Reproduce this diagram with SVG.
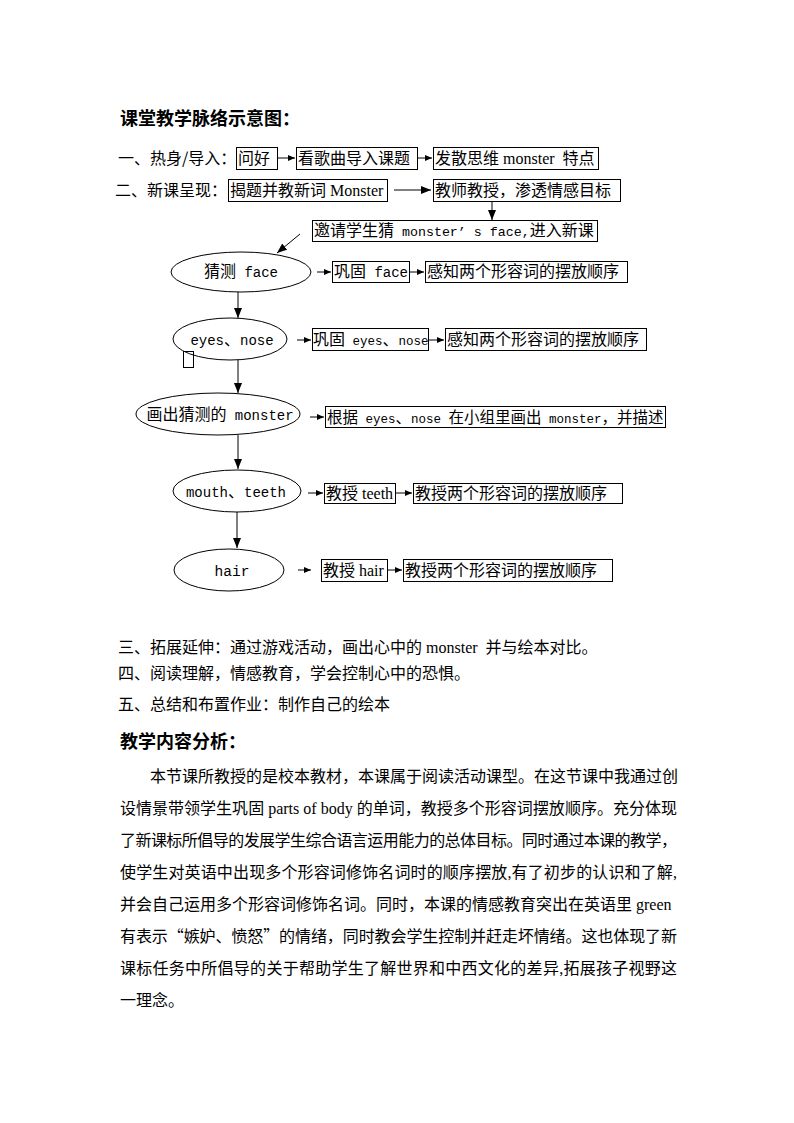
<svg xmlns="http://www.w3.org/2000/svg" width="794" height="1123" viewBox="0 0 794 1123">
<style>
text { font-family: "Noto Sans CJK SC", "Liberation Sans", sans-serif; font-size: 16px; fill: #000; }
.b { font-weight: bold; font-size: 18px; }
.se { font-family: "Liberation Serif", "Noto Sans CJK SC", serif; }
.mo { font-family: "Liberation Mono", "Noto Sans CJK SC", monospace; font-size: 14px; }
.box { fill: none; stroke: #000; stroke-width: 1; }
.ell { fill: #fff; stroke: #000; stroke-width: 1; }
.ln { stroke: #000; stroke-width: 1; fill: none; }
.sm { marker-end: url(#ahs); }
.lg { marker-end: url(#ahl); }
</style>
<defs>
<marker id="ahs" markerUnits="userSpaceOnUse" markerWidth="7" markerHeight="6" refX="7" refY="3" orient="auto">
<path d="M0,0 L7,3 L0,6 z" fill="#000"/>
</marker>
<marker id="ahl" markerUnits="userSpaceOnUse" markerWidth="10" markerHeight="8" refX="10" refY="4" orient="auto">
<path d="M0,0 L10,4 L0,8 z" fill="#000"/>
</marker>
</defs>
<rect width="794" height="1123" fill="#fff"/>

<text class="b" x="120" y="125">课堂教学脉络示意图：</text>
<text x="118" y="164">一、热身/导入：</text>
<text x="115" y="196">二、新课呈现：</text>

<g id="connectors">
<line class="ln sm" x1="278" y1="158" x2="295" y2="158"/>
<line class="ln sm" x1="418" y1="158" x2="432" y2="158"/>
<line class="ln lg" x1="394" y1="190" x2="431" y2="190"/>
<line class="ln lg" x1="492" y1="201" x2="492" y2="220"/>
<line class="ln lg" x1="300" y1="234" x2="277" y2="253"/>
<line class="ln lg" x1="238" y1="292" x2="238" y2="318"/>
<line class="ln lg" x1="238" y1="360" x2="238" y2="393"/>
<line class="ln lg" x1="238" y1="435" x2="238" y2="469"/>
<line class="ln lg" x1="237" y1="512" x2="237" y2="548"/>
<line class="ln sm" x1="317" y1="272" x2="331" y2="272"/>
<line class="ln sm" x1="410" y1="272" x2="424" y2="272"/>
<line class="ln sm" x1="297" y1="340" x2="311" y2="340"/>
<line class="ln sm" x1="429" y1="340" x2="444" y2="340"/>
<line class="ln sm" x1="310" y1="417" x2="324" y2="417"/>
<line class="ln sm" x1="308" y1="493" x2="323" y2="493"/>
<line class="ln sm" x1="396" y1="493" x2="412" y2="493"/>
<line class="ln sm" x1="298" y1="570" x2="311" y2="570"/>
<line class="ln sm" x1="388" y1="570" x2="402" y2="570"/>
</g>

<g id="n-wenhao"><rect class="box" x="236.5" y="147.5" width="41" height="22"/><text x="238" y="164">问好</text></g>
<g id="n-song"><rect class="box" x="296.5" y="147.5" width="121" height="22"/><text x="298" y="164">看歌曲导入课题</text></g>
<g id="n-think"><rect class="box" x="433.5" y="147.5" width="165" height="22"/><text x="435" y="164">发散思维<tspan class="se"> monster </tspan><tspan dx="4">特点</tspan></text></g>
<g id="n-reveal"><rect class="box" x="228.5" y="179.5" width="159" height="22"/><text x="230" y="196">揭题并教新词<tspan class="se"> Monster</tspan></text></g>
<g id="n-teach"><rect class="box" x="433.5" y="179.5" width="187" height="22"/><text x="435" y="196">教师教授，渗透情感目标</text></g>
<g id="n-invite"><rect class="box" x="312.5" y="220.5" width="285" height="21"/><text x="314" y="236">邀请学生猜<tspan class="mo" style="font-size:13.3px"> monster’ s face,</tspan>进入新课</text></g>

<g id="e-face"><ellipse class="ell" cx="241" cy="272" rx="70" ry="20"/><text x="241" y="277" text-anchor="middle">猜测<tspan class="mo"> face</tspan></text></g>
<g id="e-eyes"><ellipse class="ell" cx="230" cy="339" rx="57" ry="21"/><text x="232" y="345" text-anchor="middle"><tspan class="mo">eyes</tspan>、<tspan class="mo">nose</tspan></text><rect class="box" x="183.5" y="351.5" width="10" height="16"/></g>
<g id="e-draw"><ellipse class="ell" cx="218" cy="414" rx="82" ry="21"/><text x="220" y="420" text-anchor="middle">画出猜测的<tspan class="mo"> monster</tspan></text></g>
<g id="e-mouth"><ellipse class="ell" cx="237" cy="491" rx="64" ry="21"/><text x="236" y="497" text-anchor="middle"><tspan class="mo">mouth</tspan>、<tspan class="mo">teeth</tspan></text></g>
<g id="e-hair"><ellipse class="ell" cx="229" cy="570" rx="55" ry="21"/><text x="232" y="576" text-anchor="middle" class="mo" style="font-size:14.5px">hair</text></g>

<g id="r-face1"><rect class="box" x="332.5" y="261.5" width="77" height="21"/><text x="334" y="277">巩固<tspan class="mo"> face</tspan></text></g>
<g id="r-face2"><rect class="box" x="425.5" y="261.5" width="202" height="21"/><text x="427" y="277">感知两个形容词的摆放顺序</text></g>
<g id="r-eyes1"><rect class="box" x="312.5" y="328.5" width="116" height="22"/><text x="313" y="345">巩固<tspan class="mo" style="font-size:12.5px"> eyes</tspan>、<tspan class="mo" style="font-size:12.5px">nose</tspan></text></g>
<g id="r-eyes2"><rect class="box" x="445.5" y="328.5" width="201" height="22"/><text x="447" y="345">感知两个形容词的摆放顺序</text></g>
<g id="r-draw"><rect class="box" x="325.5" y="406.5" width="340" height="21"/><text x="327" y="423" style="font-size:15.5px">根据<tspan class="mo" style="font-size:12.5px"> eyes</tspan>、<tspan class="mo" style="font-size:12.5px">nose </tspan>在小组里画出<tspan class="mo" style="font-size:12.5px"> monster</tspan>，并描述</text></g>
<g id="r-teeth1"><rect class="box" x="324.5" y="483.5" width="71" height="20"/><text x="326" y="499">教授<tspan class="se"> teeth</tspan></text></g>
<g id="r-teeth2"><rect class="box" x="413.5" y="483.5" width="209" height="20"/><text x="415" y="499">教授两个形容词的摆放顺序</text></g>
<g id="r-hair1"><rect class="box" x="321.5" y="559.5" width="66" height="22"/><text x="323" y="576">教授<tspan class="se"> hair</tspan></text></g>
<g id="r-hair2"><rect class="box" x="403.5" y="559.5" width="209" height="22"/><text x="405" y="576">教授两个形容词的摆放顺序</text></g>

<text x="118" y="653">三、拓展延伸：通过游戏活动，画出心中的<tspan class="se"> monster </tspan><tspan dx="4">并与绘本对比。</tspan></text>
<text x="118" y="679">四、阅读理解，情感教育，学会控制心中的恐惧。</text>
<text x="118" y="710">五、总结和布置作业：制作自己的绘本</text>
<text class="b" x="120" y="748">教学内容分析：</text>

<text x="150" y="782" textLength="528" lengthAdjust="spacing">本节课所教授的是校本教材，本课属于阅读活动课型。在这节课中我通过创</text>
<text x="120" y="814" textLength="557" lengthAdjust="spacing">设情景带领学生巩固<tspan class="se"> parts of body </tspan>的单词，教授多个形容词摆放顺序。充分体现</text>
<text x="120" y="846" textLength="557" lengthAdjust="spacing">了新课标所倡导的发展学生综合语言运用能力的总体目标。同时通过本课的教学，</text>
<text x="120" y="878" textLength="557" lengthAdjust="spacing">使学生对英语中出现多个形容词修饰名词时的顺序摆放<tspan class="se">,</tspan>有了初步的认识和了解<tspan class="se">,</tspan></text>
<text x="120" y="910">并会自己运用多个形容词修饰名词。同时，本课的情感教育突出在英语里<tspan class="se"> green</tspan></text>
<text x="120" y="942" textLength="557" lengthAdjust="spacing">有表示“嫉妒、愤怒”的情绪，同时教会学生控制并赶走坏情绪。这也体现了新</text>
<text x="120" y="974" textLength="557" lengthAdjust="spacing">课标任务中所倡导的关于帮助学生了解世界和中西文化的差异<tspan class="se">,</tspan>拓展孩子视野这</text>
<text x="120" y="1006">一理念。</text>
</svg>
